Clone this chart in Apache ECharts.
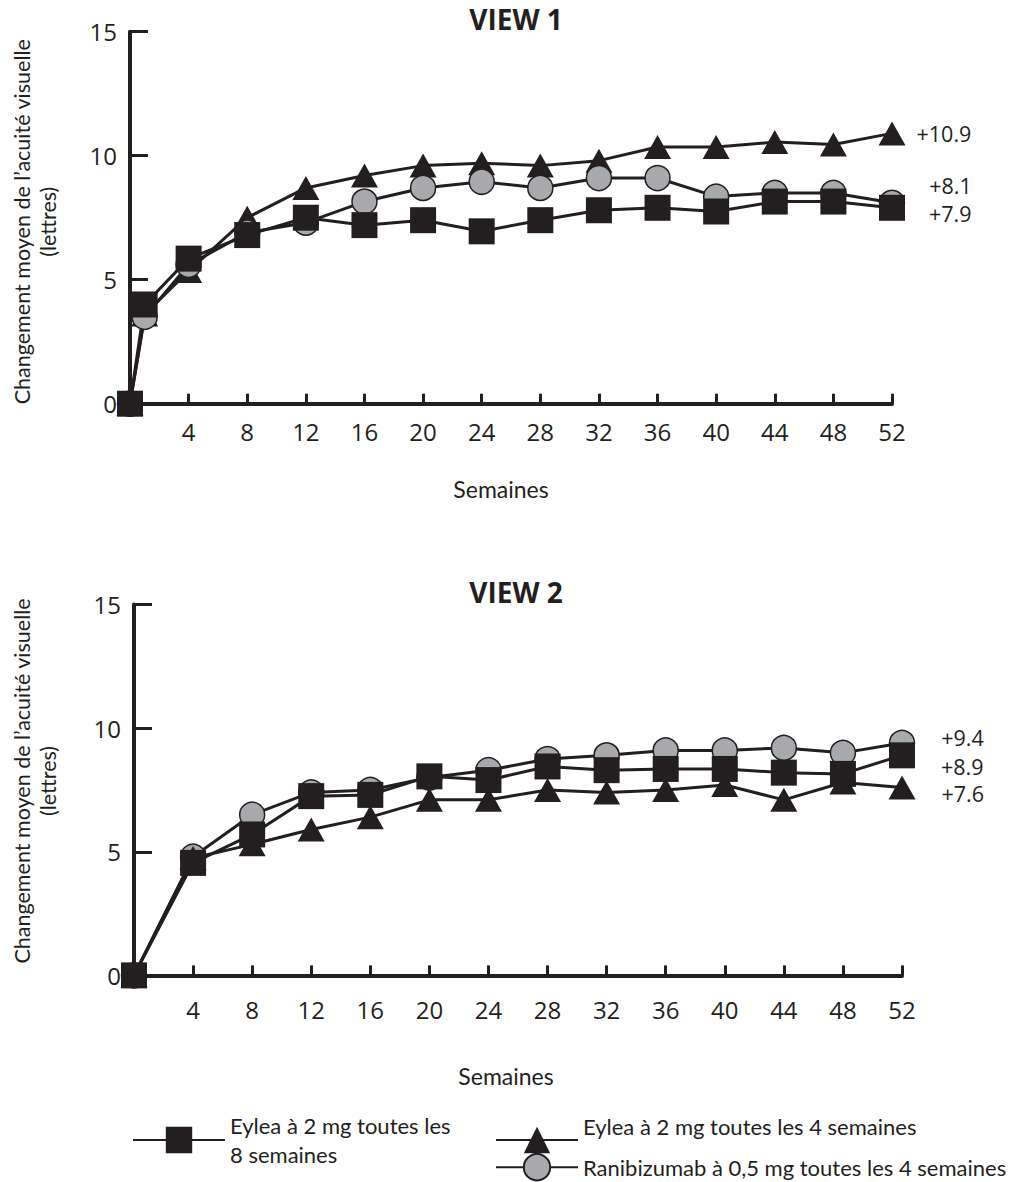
<!DOCTYPE html>
<html><head><meta charset="utf-8">
<script src="https://cdn.jsdelivr.net/npm/echarts@6/dist/echarts.min.js"></script>
<style>html,body{margin:0;padding:0;background:#fff}#c{width:1016px;height:1182px}</style>
</head><body><div id="c"></div>
<script>
// ---- data ----
const titles = ['VIEW 1', 'VIEW 2'];
const yAxisTitle = 'Changement moyen de l’acuité visuelle\n(lettres)';
const xAxisTitle = 'Semaines';
const seriesNames = ['Eylea à 2 mg toutes les 8 semaines', 'Eylea à 2 mg toutes les 4 semaines', 'Ranibizumab à 0,5 mg toutes les 4 semaines'];

const weeksView1 = [0, 1, 4, 8, 12, 16, 20, 24, 28, 32, 36, 40, 44, 48, 52];
const eylea8View1 = [0, 4.0, 5.85, 6.8, 7.5, 7.2, 7.4, 6.95, 7.4, 7.8, 7.9, 7.75, 8.15, 8.15, 7.9];
const eylea4View1 = [0, 3.6, 5.35, 7.5, 8.7, 9.2, 9.6, 9.7, 9.6, 9.8, 10.35, 10.35, 10.55, 10.45, 10.9];
const raniView1   = [0, 3.5, 5.6, 6.9, 7.3, 8.15, 8.7, 8.95, 8.7, 9.1, 9.1, 8.35, 8.5, 8.5, 8.1];

const weeksView2 = [0, 4, 8, 12, 16, 20, 24, 28, 32, 36, 40, 44, 48, 52];
const eylea8View2 = [0, 4.55, 5.7, 7.25, 7.3, 8.05, 7.9, 8.45, 8.3, 8.35, 8.35, 8.2, 8.15, 8.9];
const eylea4View2 = [0, 4.75, 5.3, 5.9, 6.4, 7.1, 7.1, 7.5, 7.4, 7.5, 7.7, 7.1, 7.8, 7.6];
const raniView2   = [0, 4.8, 6.5, 7.4, 7.5, 8.0, 8.3, 8.75, 8.9, 9.1, 9.1, 9.2, 9.0, 9.4];

const yTicks = { min: 0, max: 15, interval: 5 };
const xTicks = { min: 0, max: 52, interval: 4 };

// ---- styles ----
const INK = '#231f20';
const GREY = '#a7a9ac';
const TXT = 'Lato';
const NUM = 'Open Sans';

const grids = [
  { left: 130, right: 124, top: 31.7, bottom: 778.3 },
  { left: 134, right: 114, top: 604.5, bottom: 206.6 }
];

function xAxis(i, labelMargin, nameGap, namePad) {
  return {
    type: 'value', gridIndex: i, min: xTicks.min, max: xTicks.max, interval: xTicks.interval,
    axisLine: { lineStyle: { color: INK, width: 4 } },
    axisTick: { inside: true, length: 10, lineStyle: { color: INK, width: 3 } },
    axisLabel: { margin: labelMargin, color: INK, fontFamily: NUM, fontSize: 24,
      formatter: v => v === 0 ? '' : String(v) },
    splitLine: { show: false },
    name: xAxisTitle, nameLocation: 'middle', nameGap: nameGap,
    nameTextStyle: { fontFamily: TXT, fontSize: 23, color: INK, padding: namePad }
  };
}
function yAxis(i, nameGap, namePad) {
  return {
    type: 'value', gridIndex: i, min: yTicks.min, max: yTicks.max, interval: yTicks.interval,
    axisLine: { show: true, lineStyle: { color: INK, width: 4 } },
    axisTick: { show: true, inside: true, length: 18, lineStyle: { color: INK, width: 3 } },
    axisLabel: { margin: 13, color: INK, fontFamily: NUM, fontSize: 24 },
    splitLine: { show: false },
    name: yAxisTitle, nameLocation: 'middle', nameGap: nameGap, nameRotate: 90,
    nameTextStyle: { fontFamily: TXT, fontSize: 21.5, lineHeight: 26, color: INK, padding: namePad }
  };
}

const markerStyle = {
  square: { symbol: 'rect', symbolSize: 26, itemStyle: { color: INK } },
  triangle: { symbol: 'triangle', symbolSize: [27, 24], itemStyle: { color: INK } },
  circle: { symbol: 'circle', symbolSize: 25, itemStyle: { color: GREY, borderColor: INK, borderWidth: 1.5 } }
};

function makeSeries(name, idx, weeks, vals, marker, endOffset) {
  const data = weeks.map((w, k) => {
    if (k === vals.length - 1) {
      return { value: [w, vals[k]], label: { show: true, position: 'right', distance: 10, offset: endOffset,
        formatter: p => '+' + p.value[1].toFixed(1), fontFamily: NUM, fontSize: 21.5, lineHeight: 22, color: INK } };
    }
    return [w, vals[k]];
  });
  return Object.assign({
    type: 'line', name: name, xAxisIndex: idx, yAxisIndex: idx, data: data,
    clip: false, showAllSymbol: true,
    lineStyle: { color: INK, width: 3 },
    emphasis: { disabled: true }
  }, markerStyle[marker]);
}

const legendText = { fontFamily: TXT, fontSize: 22, color: INK };

const option = {
  animation: false,
  backgroundColor: '#fff',
  title: [
    { text: titles[0], left: 511, top: 0, textAlign: 'center', textStyle: { fontFamily: NUM, fontWeight: 'bold', fontSize: 28, color: INK } },
    { text: titles[1], left: 511, top: 573, textAlign: 'center', textStyle: { fontFamily: NUM, fontWeight: 'bold', fontSize: 28, color: INK } }
  ],
  grid: grids,
  xAxis: [xAxis(0, 16, 74, [0, 20, 0, 0]), xAxis(1, 22, 89, [0, 24, 0, 0])],
  yAxis: [yAxis(0, 69, [0, 8, 0, 0]), yAxis(1, 73, [0, 0, 0, 18])],
  legend: [
    { data: [seriesNames[0]], left: 132, top: 1111, padding: 0, itemWidth: 92, itemHeight: 33,
      formatter: () => 'Eylea à 2 mg toutes les\n8 semaines',
      textStyle: Object.assign({ lineHeight: 29 }, legendText) },
    { data: [seriesNames[1]], left: 495, top: 1112, padding: 0, itemWidth: 82, itemHeight: 33,
      formatter: n => n + '\n ',
      textStyle: Object.assign({ lineHeight: 28 }, legendText) },
    { data: [seriesNames[2]], left: 495, top: 1153, padding: 0, itemWidth: 82, itemHeight: 33,
      textStyle: Object.assign({ lineHeight: 24 }, legendText) }
  ],
  series: [
    makeSeries(seriesNames[1], 0, weeksView1, eylea4View1, 'triangle', [1, 0]),
    makeSeries(seriesNames[2], 0, weeksView1, raniView1, 'circle', [14, -17]),
    makeSeries(seriesNames[0], 0, weeksView1, eylea8View1, 'square', [14, 6]),
    makeSeries(seriesNames[2], 1, weeksView2, raniView2, 'circle', [16, -5]),
    makeSeries(seriesNames[1], 1, weeksView2, eylea4View2, 'triangle', [16, 6]),
    makeSeries(seriesNames[0], 1, weeksView2, eylea8View2, 'square', [16, 11])
  ]
};

const chart = echarts.init(document.getElementById('c'), null, { renderer: 'svg' });
chart.setOption(option);
</script>
</body></html>
